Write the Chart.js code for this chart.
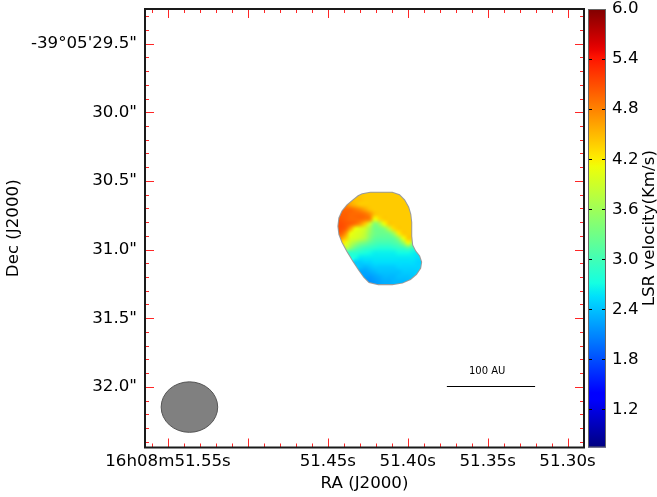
<!DOCTYPE html>
<html>
<head>
<meta charset="utf-8">
<script src="https://cdn.jsdelivr.net/npm/chart.js@4.4.0/dist/chart.umd.min.js"></script>
<style>
  html, body { margin: 0; padding: 0; background: #fff; }
</style>
</head>
<body>
<canvas id="map" width="657" height="497"></canvas>
<script>
// RA in seconds after 16h08m, Dec in arcsec after -39°05'
const raTicks = [51.55, 51.50, 51.45, 51.40, 51.35, 51.30];
const raLabels = ["16h08m51.55s", "", "51.45s", "51.40s", "51.35s", "51.30s"];
const decTicks = [29.5, 30.0, 30.5, 31.0, 31.5, 32.0];
const decLabels = ["-39°05'29.5\"", "30.0\"", "30.5\"", "31.0\"", "31.5\"", "32.0\""];
const cbTicks = [1.2, 1.8, 2.4, 3.0, 3.6, 4.2, 4.8, 5.4, 6.0];
const raRange = [51.2897, 51.5644];
const decRange = [29.247, 32.4425];
const velRange = [0.744, 6.0];

// moment-1 map, LSR velocity (km/s); rows go north -> south, columns east -> west
const gridRa0 = 51.4447, gridDec0 = 30.5677;
const raStep = 0.003, decStep = 0.035;
const velStart = [0, 6, 4, 3, 2, 1, 1, 1, 1, 1, 2, 3, 4, 4, 5, 5, 6, 6, 7, 7];
const velRows = [
    [],
    [4.4, 4.4, 4.4, 4.4, 4.4, 4.4, 4.4],
    [4.45, 4.45, 4.4, 4.4, 4.4, 4.4, 4.4, 4.4, 4.4, 4.4],
    [4.6, 4.5, 4.4, 4.4, 4.4, 4.4, 4.4, 4.4, 4.4, 4.4, 4.4, 4.4],
    [4.95, 4.95, 4.85, 4.75, 4.6, 4.45, 4.4, 4.4, 4.4, 4.4, 4.4, 4.4, 4.4, 4.4],
    [5.0, 5.0, 4.95, 4.95, 4.95, 4.9, 4.75, 4.45, 4.4, 4.4, 4.4, 4.4, 4.4, 4.4, 4.4],
    [5.05, 5.0, 4.95, 4.95, 4.95, 4.9, 4.8, 4.1, 4.3, 4.4, 4.4, 4.4, 4.4, 4.4, 4.4],
    [5.1, 5.05, 5.0, 4.9, 4.7, 4.4, 3.9, 3.4, 3.6, 4.1, 4.4, 4.4, 4.4, 4.4, 4.4],
    [5.1, 5.0, 4.6, 4.1, 4.0, 3.9, 3.6, 3.3, 3.3, 3.4, 3.8, 4.3, 4.4, 4.4, 4.4],
    [5.0, 4.7, 4.1, 4.0, 3.95, 3.8, 3.5, 3.3, 3.25, 3.25, 3.3, 3.6, 4.2, 4.4, 4.4],
    [4.4, 4.0, 3.95, 3.85, 3.7, 3.4, 3.2, 3.15, 3.15, 3.15, 3.2, 3.5, 4.1, 4.4],
    [3.8, 3.6, 3.4, 3.3, 3.15, 3.05, 3.0, 3.0, 3.0, 3.05, 3.15, 3.5, 4.1],
    [3.2, 3.05, 2.95, 2.9, 2.85, 2.8, 2.8, 2.8, 2.85, 2.9, 2.95, 3.1, 2.9],
    [2.85, 2.8, 2.75, 2.7, 2.65, 2.65, 2.65, 2.65, 2.65, 2.7, 2.7, 2.7, 2.65],
    [2.6, 2.6, 2.6, 2.6, 2.6, 2.6, 2.6, 2.6, 2.6, 2.6, 2.6, 2.6, 2.55],
    [2.45, 2.5, 2.5, 2.55, 2.55, 2.55, 2.55, 2.55, 2.55, 2.55, 2.55, 2.55, 2.5],
    [2.35, 2.4, 2.45, 2.45, 2.45, 2.45, 2.45, 2.5, 2.5, 2.5, 2.5, 2.5],
    [2.25, 2.3, 2.35, 2.4, 2.4, 2.4, 2.4, 2.4, 2.45, 2.45, 2.45],
    [2.2, 2.25, 2.3, 2.35, 2.35, 2.35, 2.4, 2.4, 2.4],
    [2.15, 2.2, 2.25, 2.3, 2.3, 2.35, 2.35, 2.35],
];
const gridCols = 19;

// emission edge (mask outline), RA s / Dec arcsec
const edgeRa = [51.4284, 51.4234, 51.4097, 51.4053, 51.4022, 51.3997, 51.3984, 51.3978, 51.3978, 51.3972,
    51.3953, 51.3928, 51.3916, 51.3922, 51.3947, 51.3984, 51.4034, 51.4097, 51.4184, 51.4241,
    51.4272, 51.4303, 51.4341, 51.4378, 51.4409, 51.4428, 51.4434, 51.4428, 51.4409, 51.4378,
    51.4341, 51.4309];
const edgeDec = [30.597, 30.586, 30.586, 30.604, 30.640, 30.691, 30.742, 30.801, 30.902, 30.968,
    31.012, 31.048, 31.092, 31.135, 31.179, 31.215, 31.241, 31.252, 31.252, 31.237,
    31.201, 31.150, 31.084, 31.012, 30.946, 30.888, 30.830, 30.771, 30.721, 30.677,
    30.640, 30.611];

// beam and scale bar
const beam = { ra: 51.5366, dec: 32.148, halfRa: 0.01769, halfDec: 0.184 };
const barRa = [51.3755, 51.3203];
const barDec = 31.991;
const barLabel = { text: "100 AU", ra: 51.3503, dec: 31.885 };

const FONT = "'DejaVu Sans', sans-serif";

// matplotlib jet
const jetR = [[0, 0], [0.35, 0], [0.66, 1], [0.89, 1], [1, 0.5]];
const jetG = [[0, 0], [0.125, 0], [0.375, 1], [0.64, 1], [0.91, 0], [1, 0]];
const jetB = [[0, 0.5], [0.11, 1], [0.34, 1], [0.65, 0], [1, 0]];
function seg(pts, t) {
    for (let i = 1; i < pts.length; i++) {
        if (t <= pts[i][0]) {
            const f = (t - pts[i - 1][0]) / (pts[i][0] - pts[i - 1][0]);
            return pts[i - 1][1] + f * (pts[i][1] - pts[i - 1][1]);
        }
    }
    return pts[pts.length - 1][1];
}
function jet(t) {
    t = Math.min(1, Math.max(0, t));
    return [seg(jetR, t), seg(jetG, t), seg(jetB, t)].map((c) => Math.round(c * 255));
}
function velColor(v) {
    return jet((v - velRange[0]) / (velRange[1] - velRange[0]));
}

// one pixel per cell; empty cells next to the edge take their neighbours' value
// so the clipped image has no holes along the mask outline
const cells = document.createElement("canvas");
cells.width = gridCols;
cells.height = velRows.length;
(function () {
    const nr = velRows.length;
    let grid = [];
    for (let r = 0; r < nr; r++) {
        grid.push(new Array(gridCols).fill(null));
        velRows[r].forEach((v, k) => { grid[r][velStart[r] + k] = v; });
    }
    for (let pass = 0; pass < 2; pass++) {
        const next = grid.map((row) => row.slice());
        for (let r = 0; r < nr; r++) {
            for (let c = 0; c < gridCols; c++) {
                if (grid[r][c] !== null) continue;
                let s = 0, n = 0;
                [[-1, 0], [1, 0], [0, -1], [0, 1]].forEach(([dr, dc]) => {
                    const v = grid[r + dr] ? grid[r + dr][c + dc] : undefined;
                    if (v !== undefined && v !== null) { s += v; n++; }
                });
                if (n) next[r][c] = s / n;
            }
        }
        grid = next;
    }
    const cctx = cells.getContext("2d");
    const img = cctx.createImageData(gridCols, nr);
    for (let r = 0; r < nr; r++) {
        for (let c = 0; c < gridCols; c++) {
            const v = grid[r][c];
            if (v === null) continue;
            const [R, G, B] = velColor(v);
            const idx = (r * gridCols + c) * 4;
            img.data[idx] = R;
            img.data[idx + 1] = G;
            img.data[idx + 2] = B;
            img.data[idx + 3] = 255;
        }
    }
    cctx.putImageData(img, 0, 0);
})();

function edgePath(ctx, x, y) {
    ctx.beginPath();
    edgeRa.forEach((ra, i) => {
        const px = x.getPixelForValue(ra), py = y.getPixelForValue(edgeDec[i]);
        if (i === 0) ctx.moveTo(px, py);
        else ctx.lineTo(px, py);
    });
    ctx.closePath();
}

const mapPlugin = {
    id: "mapPlugin",
    beforeDraw(chart) {
        const ctx = chart.ctx;
        ctx.save();
        ctx.fillStyle = "#fff";
        ctx.fillRect(0, 0, chart.width, chart.height);
        ctx.restore();
    },
    beforeDatasetsDraw(chart) {
        const { ctx, scales } = chart;
        const x = scales.x, y = scales.y;
        const left = x.getPixelForValue(gridRa0 + 0.5 * raStep);
        const right = x.getPixelForValue(gridRa0 - (gridCols - 0.5) * raStep);
        const top = y.getPixelForValue(gridDec0 - 0.5 * decStep);
        const bottom = y.getPixelForValue(gridDec0 + (velRows.length - 0.5) * decStep);

        // grey rim of the masked map
        ctx.save();
        edgePath(ctx, x, y);
        ctx.strokeStyle = "rgba(120,120,120,0.75)";
        ctx.lineWidth = 2;
        ctx.stroke();
        ctx.restore();

        ctx.save();
        edgePath(ctx, x, y);
        ctx.clip();
        ctx.imageSmoothingEnabled = true;
        ctx.imageSmoothingQuality = "high";
        ctx.drawImage(cells, left, top, right - left, bottom - top);
        ctx.restore();

        // beam
        ctx.save();
        ctx.beginPath();
        const bx = x.getPixelForValue(beam.ra), by = y.getPixelForValue(beam.dec);
        const rx = Math.abs(x.getPixelForValue(beam.ra + beam.halfRa) - bx);
        const ry = Math.abs(y.getPixelForValue(beam.dec + beam.halfDec) - by);
        ctx.ellipse(bx, by, rx, ry, 0, 0, Math.PI * 2);
        ctx.fillStyle = "#808080";
        ctx.fill();
        ctx.lineWidth = 1;
        ctx.strokeStyle = "#555";
        ctx.stroke();

        // scale bar
        const by2 = Math.round(y.getPixelForValue(barDec)) + 0.5;
        ctx.beginPath();
        ctx.moveTo(x.getPixelForValue(barRa[0]), by2);
        ctx.lineTo(x.getPixelForValue(barRa[1]), by2);
        ctx.strokeStyle = "#000";
        ctx.lineWidth = 1;
        ctx.stroke();
        ctx.fillStyle = "#000";
        ctx.font = "10px " + FONT;
        ctx.textAlign = "center";
        ctx.textBaseline = "middle";
        ctx.fillText(barLabel.text, x.getPixelForValue(barLabel.ra), y.getPixelForValue(barLabel.dec));
        ctx.restore();
    },
    afterDatasetsDraw(chart) {
        const { ctx, chartArea, scales } = chart;
        const x = scales.x, y = scales.y;
        ctx.save();
        ctx.strokeStyle = "rgba(255,0,0,0.85)";
        ctx.lineWidth = 1;
        ctx.beginPath();
        for (let k = 5129; k <= 5156; k++) {
            const px = Math.round(x.getPixelForValue(k / 100)) + 0.5;
            const len = k % 5 === 0 ? 9 : 4;
            ctx.moveTo(px, chartArea.top);
            ctx.lineTo(px, chartArea.top + len);
            ctx.moveTo(px, chartArea.bottom);
            ctx.lineTo(px, chartArea.bottom - len);
        }
        for (let k = 293; k <= 324; k++) {
            const py = Math.round(y.getPixelForValue(k / 10)) + 0.5;
            const len = k % 5 === 0 ? 9 : 4;
            ctx.moveTo(chartArea.left, py);
            ctx.lineTo(chartArea.left + len, py);
            ctx.moveTo(chartArea.right, py);
            ctx.lineTo(chartArea.right - len, py);
        }
        ctx.stroke();

        // frame
        ctx.strokeStyle = "#1a1a1a";
        ctx.lineWidth = 2;
        ctx.strokeRect(chartArea.left, chartArea.top, chartArea.width, chartArea.height);

        // colour bar
        const cb = scales.cb;
        const cTop = cb.getPixelForValue(velRange[1]);
        const cBot = cb.getPixelForValue(velRange[0]);
        const cx0 = cb.left + 4, cx1 = cb.left + 22;
        const grad = ctx.createLinearGradient(0, cBot, 0, cTop);
        for (let i = 0; i <= 64; i++) {
            const [R, G, B] = jet(i / 64);
            grad.addColorStop(i / 64, `rgb(${R},${G},${B})`);
        }
        ctx.fillStyle = grad;
        ctx.fillRect(cx0, cTop, cx1 - cx0, cBot - cTop);
        ctx.strokeStyle = "#000";
        ctx.lineWidth = 1;
        ctx.beginPath();
        cbTicks.forEach((v) => {
            const py = Math.round(cb.getPixelForValue(v)) + 0.5;
            ctx.moveTo(cx0, py);
            ctx.lineTo(cx0 + 4, py);
            ctx.moveTo(cx1, py);
            ctx.lineTo(cx1 - 4, py);
        });
        ctx.stroke();
        ctx.strokeStyle = "#666";
        ctx.strokeRect(cx0 + 0.5, cTop + 0.5, cx1 - cx0 - 1, cBot - cTop - 1);

        // colour bar title
        ctx.translate(650, (cTop + cBot) / 2);
        ctx.rotate(-Math.PI / 2);
        ctx.fillStyle = "#000";
        ctx.font = "16.67px " + FONT;
        ctx.textAlign = "center";
        ctx.textBaseline = "middle";
        ctx.fillText("LSR velocity(Km/s)", 0, 0);
        ctx.restore();
    },
};

const tickFont = { family: FONT, size: 16.67 };

new Chart(document.getElementById("map").getContext("2d"), {
    type: "scatter",
    data: { datasets: [] },
    options: {
        responsive: false,
        animation: false,
        devicePixelRatio: 1,
        layout: { padding: { top: 9, left: 0, right: 0, bottom: 0 } },
        plugins: { legend: { display: false }, tooltip: { enabled: false } },
        scales: {
            x: {
                type: "linear",
                position: "bottom",
                reverse: true,
                min: raRange[0],
                max: raRange[1],
                afterBuildTicks: (s) => { s.ticks = raTicks.map((v) => ({ value: v })); },
                afterFit: (s) => { s.height = 49.5; s.paddingLeft = 0; s.paddingRight = 0; },
                ticks: {
                    autoSkip: false,
                    maxRotation: 0,
                    padding: 4,
                    color: "#000",
                    font: tickFont,
                    callback: (v, i) => raLabels[i],
                },
                grid: { display: false, drawTicks: false },
                border: { display: false },
                title: { display: true, text: "RA (J2000)", color: "#000", font: tickFont, padding: { top: 0, bottom: 3 } },
            },
            y: {
                type: "linear",
                position: "left",
                reverse: true,
                min: decRange[0],
                max: decRange[1],
                afterBuildTicks: (s) => { s.ticks = decTicks.map((v) => ({ value: v })); },
                afterFit: (s) => { s.width = 145; s.paddingTop = 0; s.paddingBottom = 0; },
                ticks: {
                    autoSkip: false,
                    padding: 8,
                    color: "#000",
                    font: tickFont,
                    callback: (v, i) => decLabels[i],
                },
                grid: { display: false, drawTicks: false },
                border: { display: false },
                title: { display: true, text: "Dec (J2000)", color: "#000", font: tickFont, padding: { top: 4, bottom: 0 } },
            },
            cb: {
                type: "linear",
                position: "right",
                min: velRange[0],
                max: velRange[1],
                afterBuildTicks: (s) => { s.ticks = cbTicks.map((v) => ({ value: v })); },
                afterFit: (s) => { s.width = 73; s.paddingTop = 0; s.paddingBottom = 0; },
                ticks: {
                    autoSkip: false,
                    padding: 28,
                    color: "#000",
                    font: tickFont,
                    callback: (v) => v.toFixed(1),
                },
                grid: { display: false, drawTicks: false },
                border: { display: false },
            },
        },
    },
    plugins: [mapPlugin],
});
</script>
</body>
</html>
